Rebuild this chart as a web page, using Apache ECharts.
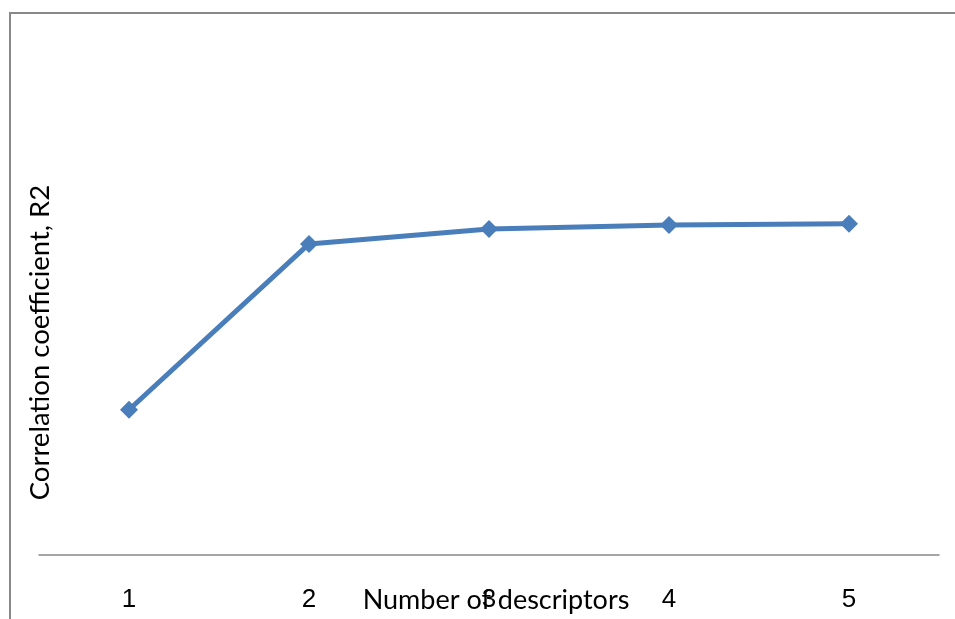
<!DOCTYPE html>
<html>
<head>
<meta charset="utf-8">
<script src="https://cdn.jsdelivr.net/npm/echarts@6/dist/echarts.min.js"></script>
<style>
  html, body { margin: 0; padding: 0; background: #fff; }
  #chart { width: 955px; height: 619px; }
</style>
</head>
<body>
<div id="chart"></div>
<script>
// Number of descriptors in the model
const descriptorCounts = ['1', '2', '3', '4', '5'];
// Correlation coefficient R2 obtained for each model size
const r2Values = [0.282, 0.604, 0.633, 0.641, 0.643];

const xTitle = 'Number of descriptors';
const yTitle = 'Correlation coefficient, R2';

const chart = echarts.init(document.getElementById('chart'));

chart.setOption({
  animation: false,
  backgroundColor: '#ffffff',
  grid: { left: 39, right: 16, top: 40, bottom: 64, outerBoundsMode: 'none', containLabel: false },
  graphic: [
    {
      type: 'rect',
      shape: { x: 10, y: 13, width: 960, height: 640 },
      style: { fill: 'none', stroke: '#888888', lineWidth: 2 },
      silent: true
    }
  ],
  xAxis: {
    type: 'category',
    data: descriptorCounts,
    boundaryGap: true,
    axisLine: { lineStyle: { color: '#888888', width: 1.5 } },
    axisTick: { show: false },
    axisLabel: {
      color: '#000000',
      fontFamily: 'Liberation Sans, Arial, sans-serif',
      fontSize: 26,
      margin: 32
    },
    name: xTitle,
    nameLocation: 'middle',
    nameGap: 32,
    nameMoveOverlap: false,
    nameTextStyle: {
      color: '#000000',
      fontFamily: 'Lato, sans-serif',
      fontSize: 27,
      padding: [0, 0, 0, 14]
    }
  },
  yAxis: {
    type: 'value',
    min: 0,
    max: 1,
    axisLine: { show: false },
    axisTick: { show: false },
    axisLabel: { show: false },
    splitLine: { show: false },
    name: yTitle,
    nameLocation: 'middle',
    nameGap: -15,
    nameMoveOverlap: false,
    nameTextStyle: {
      color: '#000000',
      fontFamily: 'Lato, sans-serif',
      fontSize: 27.5,
      padding: [0, 90, 0, 0]
    }
  },
  series: [
    {
      type: 'line',
      data: r2Values,
      symbol: 'diamond',
      symbolSize: 18,
      lineStyle: { color: '#4a7ebb', width: 5 },
      itemStyle: { color: '#4a7ebb' }
    }
  ]
});
</script>
</body>
</html>
